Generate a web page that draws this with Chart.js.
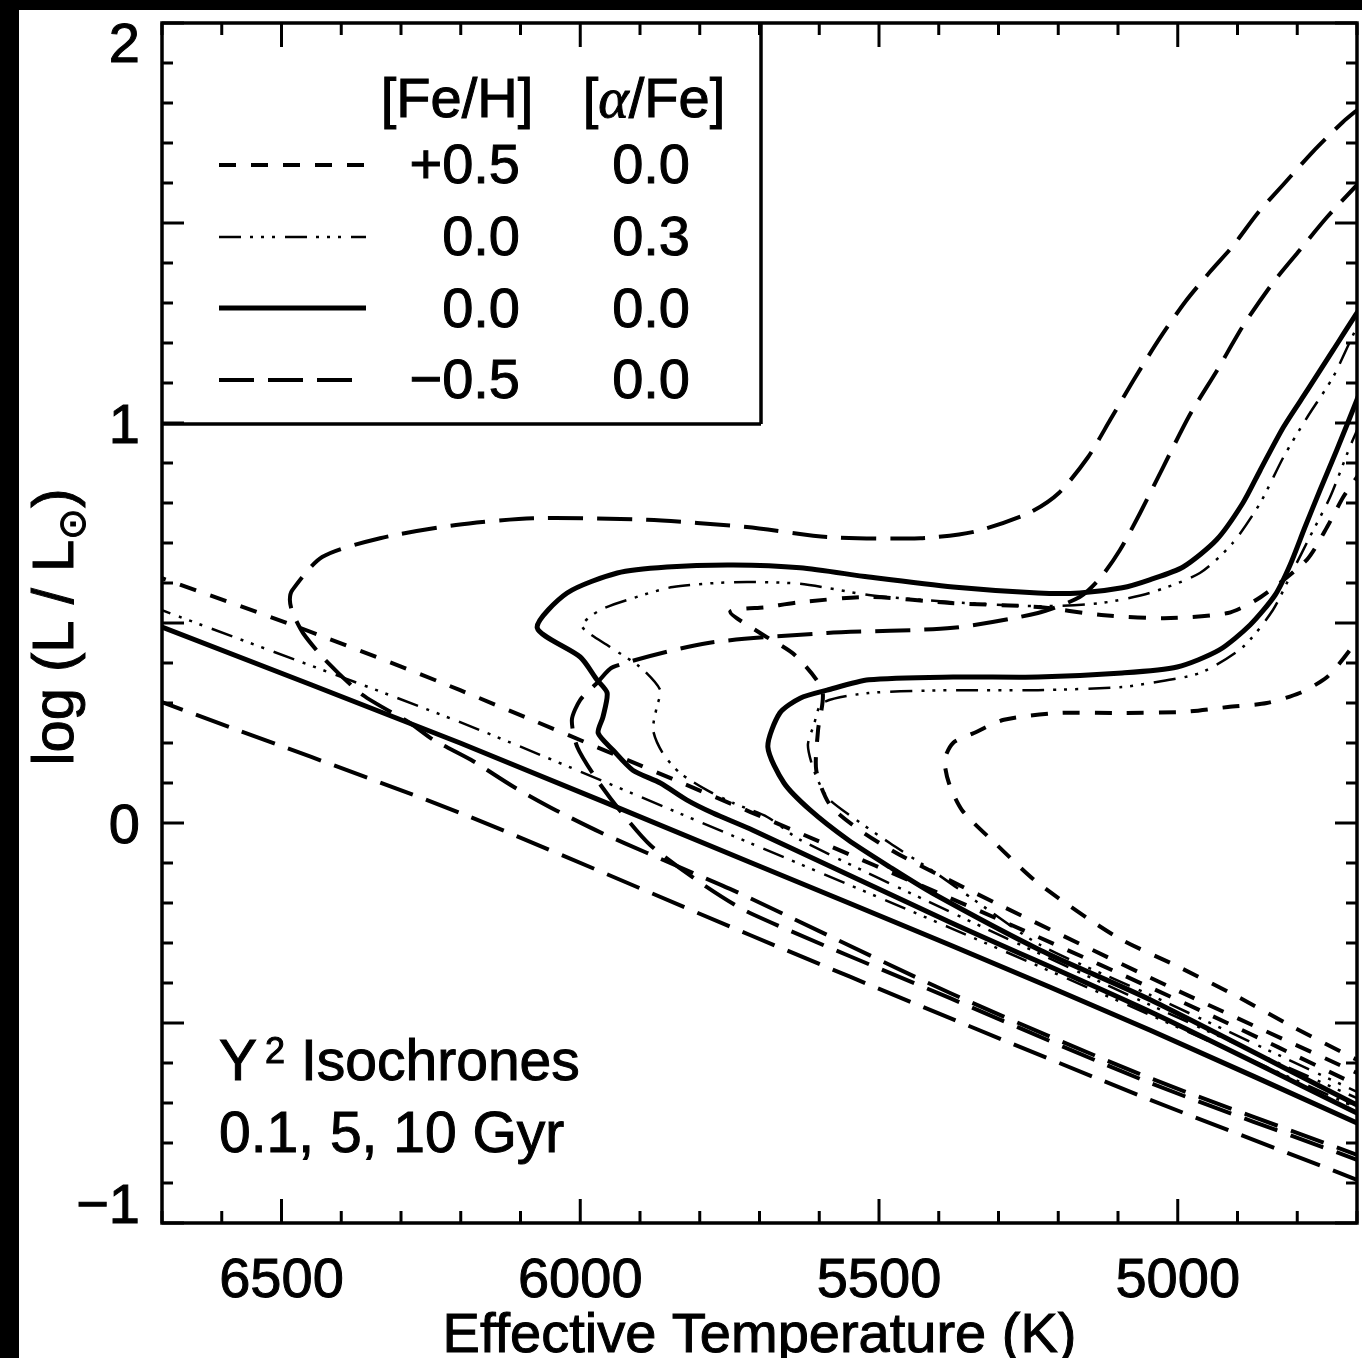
<!DOCTYPE html>
<html>
<head>
<meta charset="utf-8">
<script src="https://cdn.jsdelivr.net/npm/chart.js@4.4.1/dist/chart.umd.min.js"></script>
<style>
  html, body { margin: 0; padding: 0; background: #000; }
  body { width: 1362px; height: 1358px; overflow: hidden; position: relative; }
  #wrap { position: absolute; left: 19px; top: 10px; width: 1343px; height: 1348px; background: #fff; }
  canvas { display: block; }
</style>
</head>
<body>
<div id="wrap"><canvas id="hr" width="1343" height="1348"></canvas></div>
<script>
/* Y2 isochrones, 0.1 / 5 / 10 Gyr, four compositions. Teff runs hot -> cool. */
const FONT = "'Liberation Sans', Arial, Helvetica, sans-serif";
const TEXT_STROKE = 1;

const xTicks = [5000, 5500, 6000, 6500];
const yTicks = [-1, 0, 1, 2];

// [Fe/H] = +0.5, [a/Fe] = 0.0  (short dash)
const sd01T = [6720, 6700, 6469, 6201, 5716, 5298, 4963, 4700, 4680];
const sd01L = [0.623, 0.612, 0.488, 0.332, 0.028, -0.242, -0.468, -0.655, -0.67];
const sd5T = [4680, 4700, 5013, 5298, 5465, 5532, 5582, 5605, 5602, 5595, 5641, 5699, 5749, 5687, 5632, 5517, 5381, 5234, 5128, 5023, 4916, 4861, 4784, 4750, 4723, 4700, 4678];
const sd5L = [-0.64, -0.625, -0.41, -0.205, -0.08, -0.018, 0.045, 0.132, 0.232, 0.332, 0.42, 0.475, 0.528, 0.54, 0.552, 0.565, 0.55, 0.54, 0.52, 0.512, 0.525, 0.565, 0.658, 0.74, 0.815, 0.865, 0.92];
const sd10T = [4680, 4700, 4807, 4899, 4998, 5102, 5234, 5306, 5361, 5383, 5390, 5376, 5341, 5291, 5199, 5093, 4988, 4916, 4851, 4796, 4750, 4712, 4678];
const sd10L = [-0.605, -0.592, -0.51, -0.435, -0.36, -0.285, -0.15, -0.05, 0.032, 0.1, 0.158, 0.2, 0.225, 0.258, 0.275, 0.275, 0.278, 0.29, 0.3, 0.325, 0.365, 0.432, 0.508];

// [Fe/H] = 0.0, [a/Fe] = 0.3  (dash dot dot dot)
const dd01T = [6720, 6700, 6201, 5716, 5381, 5046, 4700, 4680];
const dd01L = [0.544, 0.532, 0.252, -0.05, -0.262, -0.48, -0.712, -0.727];
const dd5T = [4680, 4700, 5046, 5381, 5632, 5687, 5744, 5788, 5833, 5862, 5878, 5872, 5866, 5900, 5950, 5997, 5967, 5912, 5845, 5744, 5632, 5517, 5376, 5234, 5128, 5047, 4963, 4908, 4862, 4823, 4783, 4740, 4700, 4678];
const dd5L = [-0.70, -0.688, -0.455, -0.222, -0.042, 0.015, 0.05, 0.082, 0.125, 0.175, 0.232, 0.29, 0.332, 0.39, 0.44, 0.492, 0.532, 0.562, 0.59, 0.602, 0.598, 0.57, 0.552, 0.542, 0.55, 0.575, 0.625, 0.7, 0.8, 0.915, 1.015, 1.115, 1.24, 1.295];
const dd10T = [4680, 4700, 5046, 5230, 5341, 5405, 5482, 5545, 5587, 5609, 5619, 5609, 5595, 5517, 5376, 5234, 5093, 5046, 4963, 4891, 4841, 4807, 4779, 4745, 4712, 4700, 4678];
const dd10L = [-0.685, -0.672, -0.43, -0.305, -0.192, -0.125, -0.05, 0.015, 0.065, 0.132, 0.195, 0.245, 0.3, 0.325, 0.332, 0.332, 0.34, 0.35, 0.375, 0.44, 0.532, 0.632, 0.715, 0.815, 0.94, 0.982, 1.07];

// [Fe/H] = 0.0, [a/Fe] = 0.0  (solid)
const s01T = [6720, 6700, 6201, 5716, 5381, 5046, 4700, 4680];
const s01L = [0.502, 0.49, 0.2, -0.098, -0.305, -0.518, -0.75, -0.765];
const s5T = [4680, 4700, 5046, 5381, 5711, 5778, 5822, 5866, 5912, 5945, 5970, 5962, 5955, 5972, 6000, 6072, 6022, 5938, 5855, 5744, 5632, 5517, 5376, 5234, 5164, 5093, 5047, 4991, 4935, 4891, 4862, 4823, 4783, 4740, 4700, 4679];
const s5L = [-0.74, -0.725, -0.472, -0.248, -0.018, 0.025, 0.058, 0.1, 0.132, 0.182, 0.225, 0.265, 0.325, 0.358, 0.415, 0.488, 0.575, 0.625, 0.64, 0.645, 0.638, 0.615, 0.59, 0.575, 0.575, 0.588, 0.608, 0.64, 0.708, 0.8, 0.882, 0.99, 1.082, 1.182, 1.275, 1.32];
const s10T = [4680, 4700, 5046, 5230, 5411, 5482, 5552, 5615, 5659, 5686, 5666, 5632, 5587, 5517, 5376, 5234, 5093, 5001, 4931, 4879, 4837, 4812, 4787, 4762, 4734, 4700, 4678];
const s10L = [-0.715, -0.705, -0.442, -0.318, -0.175, -0.11, -0.042, 0.032, 0.1, 0.19, 0.275, 0.312, 0.332, 0.358, 0.365, 0.365, 0.375, 0.39, 0.432, 0.495, 0.57, 0.645, 0.74, 0.832, 0.932, 1.058, 1.145];

// [Fe/H] = -0.5, [a/Fe] = 0.0  (long dash)
const ld01T = [6720, 6700, 6201, 5716, 5381, 5046, 4700, 4680];
const ld01L = [0.313, 0.302, 0.025, -0.28, -0.488, -0.692, -0.892, -0.905];
const ld5T = [4680, 4700, 5046, 5381, 5734, 5811, 5888, 5964, 6041, 6111, 6183, 6246, 6285, 6364, 6427, 6464, 6482, 6486, 6482, 6432, 6335, 6208, 6079, 5888, 5721, 5587, 5431, 5341, 5249, 5199, 5150, 5113, 5072, 5030, 4988, 4946, 4908, 4866, 4824, 4774, 4724, 4700, 4678];
const ld5L = [-0.845, -0.83, -0.638, -0.425, -0.175, -0.125, -0.075, -0.025, 0.032, 0.09, 0.158, 0.208, 0.25, 0.32, 0.408, 0.475, 0.528, 0.558, 0.582, 0.665, 0.712, 0.745, 0.762, 0.758, 0.74, 0.715, 0.712, 0.728, 0.775, 0.825, 0.915, 1.008, 1.112, 1.212, 1.302, 1.378, 1.442, 1.525, 1.595, 1.678, 1.752, 1.782, 1.808];
const ld10T = [4680, 4700, 5046, 5381, 5716, 5800, 5883, 5934, 5972, 6005, 6014, 6000, 5972, 5945, 5786, 5587, 5376, 5234, 5164, 5130, 5097, 5063, 5025, 4980, 4934, 4891, 4841, 4796, 4750, 4700, 4678];
const ld10L = [-0.855, -0.842, -0.65, -0.438, -0.225, -0.148, -0.055, 0.032, 0.108, 0.19, 0.258, 0.308, 0.35, 0.39, 0.45, 0.475, 0.488, 0.525, 0.565, 0.612, 0.682, 0.775, 0.888, 1.02, 1.132, 1.242, 1.35, 1.432, 1.515, 1.595, 1.628];

const lineStyles = {
  short:   { width: 4, dash: [17, 15] },
  dashdot: { width: 2.5, dash: [22, 9, 3, 8, 3, 8, 3, 10] },
  solid:   { width: 5, dash: [] },
  long:    { width: 4, dash: [35, 14] }
};

const curves = [
  { T: ld01T, L: ld01L, style: 'long' },
  { T: ld5T, L: ld5L, style: 'long' },
  { T: ld10T, L: ld10L, style: 'long' },
  { T: sd01T, L: sd01L, style: 'short' },
  { T: sd5T, L: sd5L, style: 'short' },
  { T: sd10T, L: sd10L, style: 'short' },
  { T: dd01T, L: dd01L, style: 'dashdot' },
  { T: dd5T, L: dd5L, style: 'dashdot' },
  { T: dd10T, L: dd10L, style: 'dashdot' },
  { T: s01T, L: s01L, style: 'solid' },
  { T: s5T, L: s5L, style: 'solid' },
  { T: s10T, L: s10L, style: 'solid' }
];

// legend rows: style, [Fe/H], [alpha/Fe]
const legendStyles = ['short', 'dashdot', 'solid', 'long'];
const legendFeH = ['+0.5', '0.0', '0.0', '\u22120.5'];
const legendAlpha = ['0.0', '0.3', '0.0', '0.0'];

function strokeLine(ctx, x1, y1, x2, y2) {
  ctx.beginPath();
  ctx.moveTo(x1, y1);
  ctx.lineTo(x2, y2);
  ctx.stroke();
}

// fill plus a thin stroke, so the glyphs get the weight of the printed figure
function text(ctx, str, x, y) {
  ctx.fillText(str, x, y);
  ctx.strokeText(str, x, y);
}

const frameAndTicks = {
  id: 'frameAndTicks',
  afterDatasetsDraw(chart) {
    const { ctx, chartArea: a, scales: { x, y } } = chart;
    ctx.save();
    ctx.strokeStyle = '#000';
    ctx.setLineDash([]);
    ctx.lineCap = 'butt';
    ctx.lineWidth = 3;
    for (let t = 4700; t <= 6700; t += 100) {
      const px = x.getPixelForValue(t);
      const len = t % 500 === 0 ? 24 : 12;
      strokeLine(ctx, px, a.bottom, px, a.bottom - len);
      strokeLine(ctx, px, a.top, px, a.top + len);
    }
    for (let k = -10; k <= 20; k++) {
      const py = y.getPixelForValue(k / 10);
      const len = k % 5 === 0 ? 22 : 11;
      strokeLine(ctx, a.left, py, a.left + len, py);
      strokeLine(ctx, a.right, py, a.right - len, py);
    }
    ctx.lineWidth = 3.5;
    ctx.strokeRect(a.left, a.top, a.right - a.left, a.bottom - a.top);

    // y tick labels (kept inside the frame height like the original)
    ctx.fillStyle = '#000';
    ctx.lineWidth = TEXT_STROKE;
    ctx.font = `56px ${FONT}`;
    ctx.textAlign = 'right';
    ctx.textBaseline = 'alphabetic';
    yTicks.forEach(v => {
      let py = y.getPixelForValue(v);
      py = Math.min(Math.max(py, a.top + 19), a.bottom - 20);
      const txt = v < 0 ? '\u2212' + Math.abs(v) : String(v);
      text(ctx, txt, a.left - 22, py + 20);
    });
    ctx.restore();
  },
  afterDraw(chart) {
    const { ctx, chartArea: a } = chart;
    ctx.save();
    ctx.fillStyle = '#000';
    ctx.strokeStyle = '#000';
    ctx.lineWidth = TEXT_STROKE;

    // axis titles
    ctx.font = `56px ${FONT}`;
    ctx.textAlign = 'center';
    ctx.textBaseline = 'alphabetic';
    text(ctx, 'Effective Temperature (K)', (a.left + a.right) / 2, 1342);

    ctx.save();
    ctx.translate(54, 617);
    ctx.rotate(-Math.PI / 2);
    const main = 'log (L / L';
    ctx.font = `58px ${FONT}`;
    const wMain = ctx.measureText(main).width;
    ctx.font = `38px ${FONT}`;
    const wSun = ctx.measureText('\u2299').width;
    ctx.font = `58px ${FONT}`;
    const wClose = ctx.measureText(')').width;
    let sx = -(wMain + wSun + wClose) / 2;
    ctx.textAlign = 'left';
    text(ctx, main, sx, 0);
    sx += wMain;
    ctx.font = `38px ${FONT}`;
    text(ctx, '\u2299', sx, 12);
    sx += wSun;
    ctx.font = `58px ${FONT}`;
    text(ctx, ')', sx, 0);
    ctx.restore();

    // legend box
    ctx.lineWidth = 3.5;
    ctx.setLineDash([]);
    strokeLine(ctx, 742, a.top, 742, 414);
    strokeLine(ctx, a.left, 414, 742, 414);

    ctx.lineWidth = TEXT_STROKE;
    ctx.font = `56px ${FONT}`;
    ctx.textAlign = 'center';
    text(ctx, '[Fe/H]', 438, 107);
    // [alpha/Fe] with italic alpha
    const p1 = '[', p3 = '/Fe]';
    const alphaFont = `italic 58px 'Liberation Serif', 'DejaVu Serif', serif`;
    ctx.font = `56px ${FONT}`;
    const w1 = ctx.measureText(p1).width, w3 = ctx.measureText(p3).width;
    ctx.font = alphaFont;
    const w2 = ctx.measureText('\u03b1').width;
    let ax = 635 - (w1 + w2 + w3) / 2;
    ctx.textAlign = 'left';
    ctx.font = `56px ${FONT}`;
    text(ctx, p1, ax, 107);
    ax += w1;
    ctx.font = alphaFont;
    text(ctx, '\u03b1', ax, 107);
    ax += w2;
    ctx.font = `56px ${FONT}`;
    text(ctx, p3, ax, 107);

    const rowLine = [155, 227, 298, 370];
    const rowText = [173, 245, 317, 388];
    legendStyles.forEach((s, i) => {
      const st = lineStyles[s];
      ctx.lineWidth = st.width;
      ctx.setLineDash(st.dash);
      strokeLine(ctx, 200, rowLine[i], 347, rowLine[i]);
      ctx.setLineDash([]);
      ctx.lineWidth = TEXT_STROKE;
      ctx.font = `56px ${FONT}`;
      ctx.textAlign = 'right';
      text(ctx, legendFeH[i], 501, rowText[i]);
      text(ctx, legendAlpha[i], 671, rowText[i]);
    });

    // annotation
    ctx.textAlign = 'left';
    ctx.font = `57px ${FONT}`;
    text(ctx, 'Y', 200, 1070);
    ctx.font = `36px ${FONT}`;
    text(ctx, '2', 246, 1053);
    ctx.font = `57px ${FONT}`;
    text(ctx, 'Isochrones', 282, 1070);
    text(ctx, '0.1, 5, 10 Gyr', 200, 1142);
    ctx.restore();
  }
};

const datasets = curves.map(c => ({
  data: c.T.map((t, i) => ({ x: t, y: c.L[i] })),
  borderColor: '#000',
  borderWidth: lineStyles[c.style].width,
  borderDash: lineStyles[c.style].dash,
  borderJoinStyle: 'round',
  pointRadius: 0,
  fill: false,
  tension: 0.25,
  clip: 0
}));

new Chart(document.getElementById('hr'), {
  type: 'line',
  data: { datasets },
  options: {
    responsive: false,
    devicePixelRatio: 1,
    animation: false,
    events: [],
    layout: { padding: { top: 13, right: 5, left: 0, bottom: 0 } },
    plugins: { legend: { display: false }, tooltip: { enabled: false } },
    scales: {
      x: {
        type: 'linear',
        reverse: true,
        min: 4700,
        max: 6700,
        grid: { display: false, drawTicks: false },
        border: { display: false },
        afterBuildTicks: scale => { scale.ticks = xTicks.map(v => ({ value: v })); },
        afterFit: scale => { scale.height = 135; },
        ticks: {
          autoSkip: false,
          maxRotation: 0,
          padding: 25,
          color: '#000',
          textStrokeColor: '#000',
          textStrokeWidth: TEXT_STROKE,
          font: { family: FONT, size: 56 },
          callback: value => String(value)
        }
      },
      y: {
        type: 'linear',
        min: -1,
        max: 2,
        grid: { display: false, drawTicks: false },
        border: { display: false },
        ticks: { display: false },
        afterFit: scale => { scale.width = 143; }
      }
    }
  },
  plugins: [frameAndTicks]
});
</script>
</body>
</html>
